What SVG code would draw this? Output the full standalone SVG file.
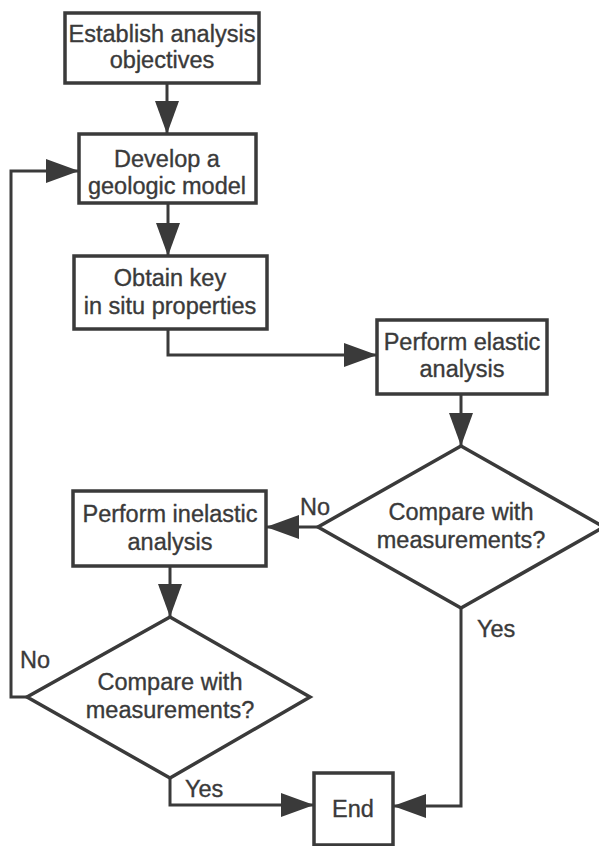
<svg xmlns="http://www.w3.org/2000/svg" width="599" height="846" viewBox="0 0 599 846">
  <style>
    .box { fill: #ffffff; stroke: #3a3a3a; stroke-width: 3.5; }
    .link { fill: none; stroke: #3a3a3a; stroke-width: 3; }
    text { font-family: "Liberation Sans", Arial, sans-serif; font-size: 23.5px; fill: #3a3a3a; stroke: #3a3a3a; stroke-width: 0.35; }
    .c { text-anchor: middle; }
  </style>
  <defs>
    <marker id="arrow" viewBox="0 0 33 24" refX="33" refY="12" markerWidth="33" markerHeight="24" markerUnits="userSpaceOnUse" orient="auto">
      <path d="M0,0 L33,12 L0,24 z" fill="#3a3a3a"/>
    </marker>
  </defs>
  <rect width="599" height="846" fill="#ffffff"/>

  <g id="connectors">
    <path class="link" d="M167,83 V134" marker-end="url(#arrow)"/>
    <path class="link" d="M168,203 V256" marker-end="url(#arrow)"/>
    <path class="link" d="M168,329 V355 H377" marker-end="url(#arrow)"/>
    <path class="link" d="M461,394 V446" marker-end="url(#arrow)"/>
    <path class="link" d="M318,527 H266" marker-end="url(#arrow)"/>
    <path class="link" d="M170,566 V617" marker-end="url(#arrow)"/>
    <path class="link" d="M27,697 H11 V171 H79" marker-end="url(#arrow)"/>
    <path class="link" d="M170,778 V805 H314" marker-end="url(#arrow)"/>
    <path class="link" d="M461,608 V806 H393" marker-end="url(#arrow)"/>
    <text x="300" y="515">No</text>
    <text x="20" y="668">No</text>
    <text x="477" y="637">Yes</text>
    <text x="185" y="797">Yes</text>
  </g>

  <g id="objectives">
    <rect class="box" x="65" y="13" width="194" height="70"/>
    <text class="c" x="162" y="42">Establish analysis</text>
    <text class="c" x="162" y="68">objectives</text>
  </g>

  <g id="geologic-model">
    <rect class="box" x="79" y="134" width="177" height="69"/>
    <text class="c" x="167" y="167">Develop a</text>
    <text class="c" x="167" y="194">geologic model</text>
  </g>

  <g id="in-situ-properties">
    <rect class="box" x="74" y="256" width="193" height="73"/>
    <text class="c" x="170" y="286">Obtain key</text>
    <text class="c" x="170" y="314">in situ properties</text>
  </g>

  <g id="elastic-analysis">
    <rect class="box" x="377" y="320" width="170" height="74"/>
    <text class="c" x="462" y="350">Perform elastic</text>
    <text class="c" x="462" y="377">analysis</text>
  </g>

  <g id="compare-elastic">
    <polygon class="box" points="461,446 604,527 461,608 318,527"/>
    <text class="c" x="461" y="520">Compare with</text>
    <text class="c" x="461" y="548">measurements?</text>
  </g>

  <g id="inelastic-analysis">
    <rect class="box" x="73" y="491" width="193" height="75"/>
    <text class="c" x="170" y="522">Perform inelastic</text>
    <text class="c" x="170" y="550">analysis</text>
  </g>

  <g id="compare-inelastic">
    <polygon class="box" points="170,617 310,697 170,778 27,697"/>
    <text class="c" x="170" y="690">Compare with</text>
    <text class="c" x="170" y="718">measurements?</text>
  </g>

  <g id="end">
    <rect class="box" x="314" y="773" width="79" height="72"/>
    <text class="c" x="353" y="817">End</text>
  </g>
</svg>
